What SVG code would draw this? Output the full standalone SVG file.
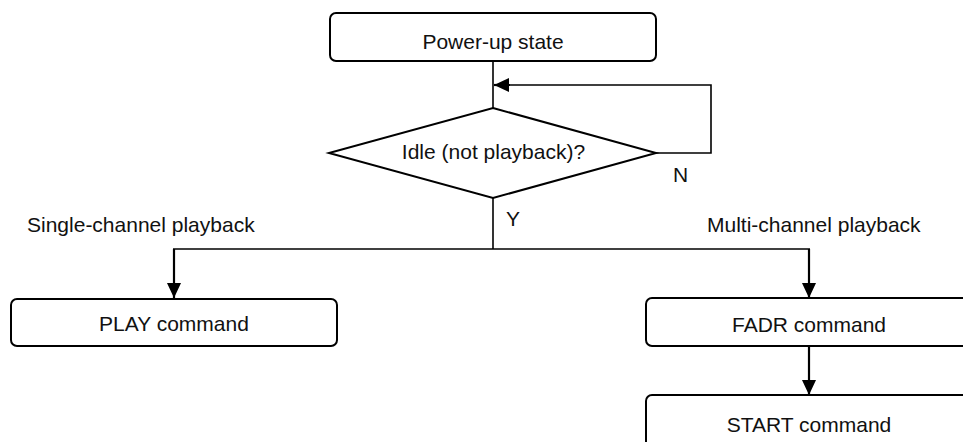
<svg xmlns="http://www.w3.org/2000/svg" width="963" height="442" viewBox="0 0 963 442">
<style>
.box{fill:#fff;stroke:#000;stroke-width:2}
.t{font-family:"Liberation Sans",Arial,sans-serif;font-size:21px;fill:#111}
.c{text-anchor:middle}
.ln{fill:none;stroke:#000;stroke-width:1.6}
.ar{fill:none;stroke:#000;stroke-width:2.2}
</style>
<defs>
<marker id="ah" markerUnits="userSpaceOnUse" markerWidth="16" markerHeight="14" refX="15" refY="7" orient="auto">
<path d="M0,0 L15,7 L0,14 z" fill="#000"/>
</marker>
</defs>
<rect width="963" height="442" fill="#fff"/>
<g id="connectors">
<line class="ln" x1="493" y1="61" x2="493" y2="108"/>
<path class="ln" d="M656,153 H711 V85 H510"/>
<path class="ar" d="M510,85 H494" marker-end="url(#ah)"/>
<line class="ln" x1="493" y1="198" x2="493" y2="249"/>
<line class="ln" x1="173" y1="249" x2="810" y2="249"/>
<path class="ar" d="M174,249 V298" marker-end="url(#ah)"/>
<path class="ar" d="M809,249 V298" marker-end="url(#ah)"/>
<path class="ar" d="M809,346 V395" marker-end="url(#ah)"/>
</g>
<g id="powerup">
<rect class="box" x="330" y="13" width="326" height="48" rx="6"/>
<text class="t c" x="493" y="49">Power-up state</text>
</g>
<g id="idle">
<polygon class="box" points="493,108 656,153 493,198 329,153"/>
<text class="t c" x="493.5" y="159">Idle (not playback)?</text>
</g>
<g id="labels">
<text class="t" x="673" y="182">N</text>
<text class="t" x="506" y="226">Y</text>
<text class="t" x="27" y="232">Single-channel playback</text>
<text class="t" x="707" y="232">Multi-channel playback</text>
</g>
<g id="play">
<rect class="box" x="11" y="299" width="326" height="47" rx="6"/>
<text class="t c" x="174" y="331">PLAY command</text>
</g>
<g id="fadr">
<rect class="box" x="646" y="298" width="330" height="48" rx="6"/>
<text class="t c" x="809" y="332">FADR command</text>
</g>
<g id="start">
<rect class="box" x="646" y="395" width="330" height="60" rx="6"/>
<text class="t c" x="809" y="432">START command</text>
</g>
</svg>
